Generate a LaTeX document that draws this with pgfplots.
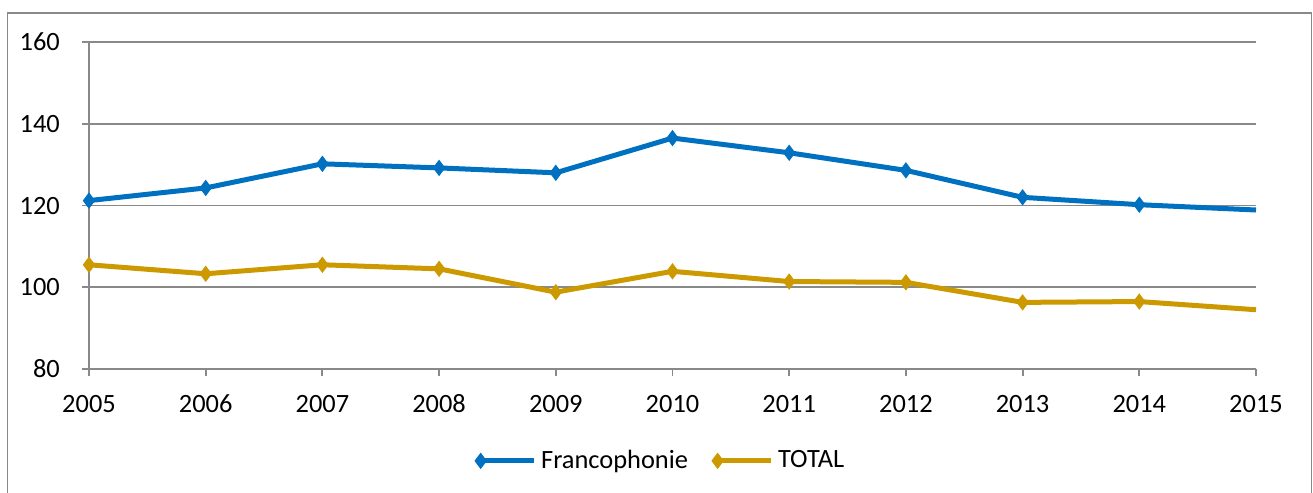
\documentclass[border=0pt]{standalone}
\usepackage{fontspec}
\setmainfont{Carlito}[Numbers={Lining,Monospaced}]
\usepackage{pgfplots}
\pgfplotsset{compat=1.18}
\definecolor{fblue}{HTML}{0070C0}
\definecolor{fgold}{HTML}{CC9900}
\definecolor{gridgray}{HTML}{898989}
\begin{document}
\fontsize{13.2}{15}\selectfont
\begin{tikzpicture}
\useasboundingbox (-44.5pt,-62pt) rectangle (612pt,184.5pt);
\draw[gridgray, line width=0.9pt] (-40.75pt,-80pt) rectangle (611.25pt,178pt);
\begin{axis}[
  at={(0pt,0pt)}, anchor=south west, scale only axis,
  width=583.5pt, height=163.5pt,
  xmin=0, xmax=10, ymin=80, ymax=160,
  xtick={0,1,2,3,4,5,6,7,8,9,10},
  xticklabels={2005,2006,2007,2008,2009,2010,2011,2012,2013,2014,2015},
  ytick={80,100,120,140,160},
  /pgf/number format/assume math mode=true,
  axis lines=left,
  axis line style={-, gridgray, line width=0.9pt},
  tick align=outside, major tick length=3.5pt,
  tick style={gridgray, line width=0.9pt},
  ymajorgrids, grid style={gridgray, line width=0.9pt},
  ticklabel style={font=\fontsize{13.2}{15}\selectfont, text=black,
    text height=8.6pt, text depth=0pt},
  yticklabel style={xshift=-6.5pt},
  xticklabel style={yshift=-5pt},
  legend columns=2,
  legend style={at={(0.489,-0.281)}, anchor=center, draw=none, fill=none,
    font=\fontsize{13.2}{15}\selectfont, inner sep=0pt,
    nodes={inner sep=0pt},
    /tikz/every odd column/.append style={column sep=2.5pt},
    /tikz/every even column/.append style={column sep=12pt}},
  legend image code/.code={%
    \draw[#1, mark=none] (0pt,0pt) -- (26.5pt,0pt);
    \draw[#1] plot coordinates {(0pt,0pt)};},
]
\addplot[fblue, line width=2.5pt, mark=diamond*, mark size=3.7pt,
  mark options={line width=0.5pt}, mark indices={1,2,3,4,5,6,7,8,9,10}]
  coordinates {(0,121.2)(1,124.3)(2,130.2)(3,129.2)(4,128.0)(5,136.5)(6,132.9)(7,128.6)(8,122.0)(9,120.2)(10,118.9)};
\addlegendentry{Francophonie}
\addplot[fgold, line width=2.5pt, mark=diamond*, mark size=3.7pt,
  mark options={line width=0.5pt}, mark indices={1,2,3,4,5,6,7,8,9,10}]
  coordinates {(0,105.5)(1,103.3)(2,105.5)(3,104.5)(4,98.8)(5,103.9)(6,101.4)(7,101.2)(8,96.3)(9,96.5)(10,94.5)};
\addlegendentry{TOTAL}
\end{axis}
\end{tikzpicture}
\end{document}
